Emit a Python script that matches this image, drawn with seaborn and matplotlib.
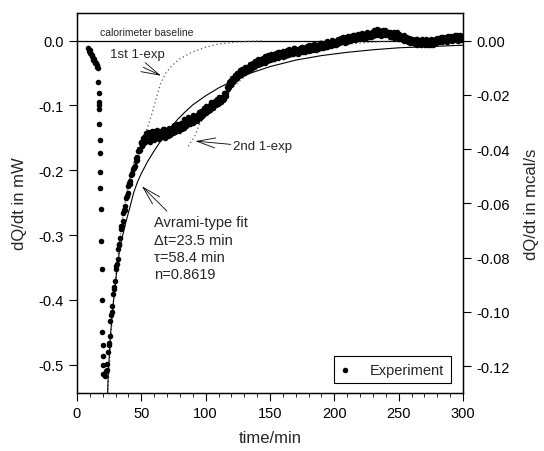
import numpy as np
import pandas as pd
import matplotlib
matplotlib.use("Agg")
import matplotlib.pyplot as plt
import seaborn as sns
from matplotlib.patches import ArrowStyle
from matplotlib.ticker import MultipleLocator

# ---------------- data ----------------
# early points before the jump
early_t = [8.8, 9.3, 9.8, 10.3, 10.8, 11.3, 11.8, 12.3, 12.8, 13.3, 13.8, 14.3, 14.8, 15.3, 15.8, 16.1]
early_v = [-0.012, -0.016, -0.014, -0.019, -0.021, -0.024, -0.022, -0.027, -0.030, -0.028,
           -0.033, -0.035, -0.034, -0.038, -0.040, -0.042]
# sparse descending column
drop_t = [16.6, 16.8, 17.0, 17.1, 17.2, 17.4, 17.6, 17.8, 18.0, 18.2, 18.5, 18.8, 19.1, 19.4,
          19.7, 19.9, 20.1, 20.3, 20.5]
drop_v = [-0.064, -0.081, -0.095, -0.100, -0.106, -0.128, -0.154, -0.174, -0.203, -0.228,
          -0.260, -0.309, -0.353, -0.400, -0.450, -0.470, -0.487, -0.500, -0.515]
# main recovery branch, readings on the whole minute (t = 22 ... 300)
main_t = list(range(22, 301))
main_v = [
    -0.518, -0.508, -0.481, -0.466, -0.432, -0.419, -0.391, -0.380, -0.352, -0.345,
    -0.322, -0.313, -0.291, -0.286, -0.266, -0.261, -0.243, -0.240, -0.224, -0.221,
    -0.208, -0.206, -0.195, -0.193, -0.181, -0.180, -0.167, -0.168, -0.157, -0.159,
    -0.148, -0.156, -0.143, -0.154, -0.145, -0.152, -0.142, -0.151, -0.146, -0.140,
    -0.150, -0.141, -0.147, -0.139, -0.149, -0.143, -0.137, -0.146, -0.140, -0.144,
    -0.136, -0.143, -0.138, -0.133, -0.141, -0.135, -0.130, -0.139, -0.131, -0.134,
    -0.127, -0.134, -0.125, -0.131, -0.122, -0.129, -0.124, -0.119, -0.127, -0.118,
    -0.123, -0.115, -0.120, -0.112, -0.118, -0.109, -0.114, -0.106, -0.111, -0.104,
    -0.108, -0.100, -0.104, -0.097, -0.101, -0.093, -0.099, -0.091, -0.096, -0.089,
    -0.095, -0.087, -0.090, -0.080, -0.081, -0.070, -0.072, -0.062, -0.066, -0.057,
    -0.061, -0.053, -0.057, -0.050, -0.055, -0.047, -0.052, -0.044, -0.049, -0.042,
    -0.047, -0.040, -0.044, -0.037, -0.042, -0.035, -0.039, -0.032, -0.037, -0.030,
    -0.036, -0.028, -0.033, -0.026, -0.034, -0.025, -0.031, -0.023, -0.030, -0.024,
    -0.029, -0.021, -0.027, -0.019, -0.026, -0.018, -0.024, -0.020, -0.025, -0.017,
    -0.023, -0.015, -0.022, -0.014, -0.021, -0.016, -0.020, -0.012, -0.019, -0.014,
    -0.019, -0.011, -0.017, -0.010, -0.018, -0.012, -0.015, -0.008, -0.016, -0.010,
    -0.014, -0.007, -0.013, -0.006, -0.015, -0.008, -0.011, -0.004, -0.012, -0.005,
    -0.010, -0.003, -0.009, -0.002, -0.008, -0.004, -0.007, 0.000, -0.006, -0.001,
    -0.005, 0.002, -0.004, 0.004, -0.002, 0.003, -0.003, 0.006, -0.001, 0.005,
    0.000, 0.007, 0.002, 0.008, 0.001, 0.009, 0.003, 0.006, 0.010, 0.004,
    0.008, 0.003, 0.011, 0.005, 0.012, 0.006, 0.010, 0.014, 0.007, 0.012,
    0.015, 0.008, 0.013, 0.016, 0.009, 0.014, 0.011, 0.017, 0.010, 0.013,
    0.008, 0.014, 0.006, 0.012, 0.004, 0.011, 0.007, 0.013, 0.003, 0.009,
    0.006, 0.001, 0.008, 0.002, 0.005, -0.002, 0.004, -0.001, 0.003, -0.003,
    0.001, -0.005, 0.002, -0.004, -0.001, -0.006, 0.003, -0.003, 0.000, -0.005,
    -0.002, -0.007, 0.001, -0.004, -0.001, -0.006, 0.002, -0.003, 0.004, -0.002,
    0.001, 0.005, -0.002, 0.004, 0.000, 0.006, -0.001, 0.005, 0.002, 0.007,
    0.001, 0.006, 0.002, 0.008, 0.000, 0.005, 0.003, 0.007, 0.002,
]
# readings on the half minute (t = 22.5 ... 299.5)
half_t = [m + 0.5 for m in range(22, 300)]
half_v = [
    -0.509, -0.499, -0.470, -0.455, -0.424, -0.409, -0.383, -0.371, -0.347, -0.337,
    -0.315, -0.305, -0.286, -0.279, -0.261, -0.255, -0.239, -0.235, -0.220, -0.217,
    -0.204, -0.198, -0.197, -0.185, -0.184, -0.171, -0.171, -0.158, -0.162, -0.150,
    -0.157, -0.144, -0.153, -0.141, -0.156, -0.146, -0.139, -0.153, -0.143, -0.150,
    -0.138, -0.151, -0.143, -0.148, -0.136, -0.145, -0.150, -0.138, -0.147, -0.135,
    -0.145, -0.134, -0.142, -0.130, -0.139, -0.128, -0.137, -0.133, -0.127, -0.137,
    -0.133, -0.121, -0.130, -0.126, -0.117, -0.128, -0.120, -0.126, -0.115, -0.124,
    -0.117, -0.124, -0.110, -0.119, -0.108, -0.116, -0.104, -0.112, -0.101, -0.109,
    -0.102, -0.107, -0.095, -0.104, -0.094, -0.100, -0.090, -0.097, -0.087, -0.093,
    -0.089, -0.092, -0.081, -0.085, -0.071, -0.075, -0.063, -0.068, -0.058, -0.063,
    -0.054, -0.059, -0.050, -0.055, -0.046, -0.053, -0.043, -0.050, -0.041, -0.047,
    -0.041, -0.046, -0.036, -0.043, -0.034, -0.041, -0.031, -0.038, -0.029, -0.036,
    -0.030, -0.035, -0.027, -0.032, -0.024, -0.031, -0.022, -0.029, -0.021, -0.028,
    -0.023, -0.028, -0.020, -0.025, -0.017, -0.024, -0.019, -0.023, -0.016, -0.022,
    -0.017, -0.022, -0.013, -0.020, -0.015, -0.019, -0.011, -0.018, -0.013, -0.020,
    -0.013, -0.018, -0.009, -0.016, -0.011, -0.017, -0.010, -0.014, -0.007, -0.015,
    -0.009, -0.014, -0.005, -0.012, -0.007, -0.013, -0.003, -0.010, -0.004, -0.011,
    -0.005, -0.009, -0.001, -0.007, -0.003, -0.008, 0.001, -0.005, 0.000, -0.006,
    0.000, -0.004, 0.003, -0.002, 0.005, -0.001, 0.004, -0.002, 0.007, 0.001,
    0.005, 0.001, 0.009, 0.003, 0.007, 0.002, 0.010, 0.005, 0.008, 0.012,
    0.005, 0.010, 0.004, 0.013, 0.008, 0.011, 0.006, 0.012, 0.016, 0.009,
    0.012, 0.018, 0.010, 0.015, 0.007, 0.016, 0.012, 0.009, 0.015, 0.011,
    0.012, 0.005, 0.010, 0.008, 0.013, 0.005, 0.010, 0.004, 0.011, 0.006,
    0.003, 0.007, 0.000, 0.006, 0.001, 0.004, -0.003, 0.002, -0.002, 0.001,
    -0.003, 0.002, -0.006, 0.000, -0.004, 0.001, -0.005, -0.001, -0.007, 0.002,
    -0.005, 0.000, -0.006, 0.002, -0.003, 0.000, -0.004, 0.003, -0.001, 0.002,
    0.003, -0.001, 0.006, 0.001, 0.004, -0.002, 0.007, 0.002, 0.004, 0.000,
    0.004, 0.008, 0.001, 0.006, 0.003, 0.009, 0.001, 0.005,
]

# Avrami-type fit (solid line)
avrami_t = [23.8, 24.2, 25, 26, 27.5, 29, 31, 33, 35, 38, 41, 44, 47, 50, 55, 60, 66, 72, 78,
            84, 90, 100, 110, 120, 135, 150, 170, 190, 210, 230, 250, 275, 300]
avrami_v = [-0.545, -0.52, -0.49, -0.455, -0.42, -0.39, -0.355, -0.325, -0.305, -0.28, -0.258,
            -0.235, -0.218, -0.205, -0.186, -0.17, -0.152, -0.136, -0.122, -0.110, -0.099,
            -0.085, -0.073, -0.063, -0.050, -0.040, -0.030, -0.023, -0.018, -0.014, -0.011,
            -0.009, -0.007]
# 1st single-exponential (dotted)
exp1_t = [24, 26, 28, 30, 33, 36, 40, 44, 48, 52, 55.5, 59, 62, 65, 69, 74, 80, 89, 100, 110,
          125, 145]
exp1_v = [-0.545, -0.47, -0.41, -0.365, -0.31, -0.265, -0.22, -0.188, -0.163, -0.148, -0.130,
          -0.108, -0.086, -0.066, -0.050, -0.038, -0.028, -0.018, -0.010, -0.005, -0.002, 0.0]
# 2nd single-exponential (dotted)
exp2_t = [86.5, 91.7, 95, 100, 105, 110, 120, 130, 140, 155, 170, 190, 210, 240, 270, 300]
exp2_v = [-0.163, -0.147, -0.130, -0.113, -0.102, -0.093, -0.074, -0.056, -0.043, -0.029,
          -0.019, -0.011, -0.005, -0.001, 0.001, 0.002]

MW_TO_MCAL = 0.239
y_ticks_mw = [0.0, -0.1, -0.2, -0.3, -0.4, -0.5]
y_ticks_mcal = [0.00, -0.02, -0.04, -0.06, -0.08, -0.10, -0.12]
x_ticks = [0, 50, 100, 150, 200, 250, 300]

# ---------------- style ----------------
sns.set_theme(style="ticks")
plt.rcParams["font.family"] = ["Liberation Sans", "DejaVu Sans"]
plt.rcParams["axes.unicode_minus"] = False
plt.rcParams["axes.linewidth"] = 0.9

fig = plt.figure(figsize=(5.44, 4.52), dpi=100)
ax = fig.add_axes([0.1415, 0.1283, 0.7096, 0.8407])

exp_df = pd.DataFrame({
    "t": early_t + drop_t + main_t + half_t,
    "v": early_v + drop_v + main_v + half_v,
})
avr_df = pd.DataFrame({"t": avrami_t, "v": avrami_v})
e1_df = pd.DataFrame({"t": exp1_t, "v": exp1_v})
e2_df = pd.DataFrame({"t": exp2_t, "v": exp2_v})

# baseline
ax.axhline(0.0, color="black", lw=0.9, zorder=1)
sns.lineplot(data=e1_df, x="t", y="v", ax=ax, color="0.35", lw=0.9,
             linestyle=(0, (1, 2.2)), sort=False, estimator=None, legend=False, zorder=2)
sns.lineplot(data=e2_df, x="t", y="v", ax=ax, color="0.35", lw=0.9,
             linestyle=(0, (1, 2.2)), sort=False, estimator=None, legend=False, zorder=2)
sns.lineplot(data=avr_df, x="t", y="v", ax=ax, color="black", lw=0.8,
             sort=False, estimator=None, legend=False, zorder=3)
sns.scatterplot(data=exp_df, x="t", y="v", ax=ax, color="black", s=16, linewidth=0,
                label="Experiment", zorder=4)

ax.set_xlim(0, 300)
ax.set_ylim(-0.5437, 0.0427)
ax.set_xticks(x_ticks)
ax.set_xticklabels([str(v) for v in x_ticks])
ax.xaxis.set_minor_locator(MultipleLocator(10))
ax.set_yticks(y_ticks_mw)
ax.set_yticklabels([f"{v:.1f}" for v in y_ticks_mw])
ax.tick_params(axis="both", which="major", direction="out", length=6, width=0.8,
               labelsize=10.5, color="black", labelcolor="black")
ax.tick_params(axis="x", which="minor", direction="out", length=3, width=0.7)
ax.set_xlabel("time/min", fontsize=12, labelpad=7)
ax.set_ylabel("dQ/dt in mW", fontsize=12, labelpad=8)
for s in ax.spines.values():
    s.set_visible(True)
    s.set_color("black")
    s.set_linewidth(0.9)

ax2 = ax.twinx()
ax2.set_ylim(ax.get_ylim()[0] * MW_TO_MCAL, ax.get_ylim()[1] * MW_TO_MCAL)
ax2.set_yticks(y_ticks_mcal)
ax2.set_yticklabels([f"{v:.2f}" for v in y_ticks_mcal])
ax2.tick_params(axis="y", direction="out", length=6, width=0.8, labelsize=10.5,
                color="black", labelcolor="black")
ax2.set_ylabel("dQ/dt in mcal/s", fontsize=12, labelpad=10)
for s in ax2.spines.values():
    s.set_color("black")
    s.set_linewidth(0.9)

# annotations
arrow = dict(arrowstyle=ArrowStyle("->", head_length=1.1, head_width=0.3),
             color="black", lw=0.6, shrinkA=0, shrinkB=0)
ax.text(17.9, 0.0134, "calorimeter baseline", fontsize=7.5, va="center", ha="left")
ax.text(25.9, -0.0205, "1st 1-exp", fontsize=9.5, va="center", ha="left")
ax.annotate("", xy=(65.3, -0.054), xytext=(51.5, -0.041), arrowprops=arrow)
ax.text(121.2, -0.162, "2nd 1-exp", fontsize=9.5, va="center", ha="left")
ax.annotate("", xy=(92.0, -0.155), xytext=(119.5, -0.160), arrowprops=arrow)
ax.annotate("", xy=(50.5, -0.2247), xytext=(69.9, -0.263), arrowprops=arrow)
fit_lines = ["Avrami-type fit", "\u0394t=23.5 min", "\u03c4=58.4 min", "n=0.8619"]
fit_y = [-0.2798, -0.3076, -0.3338, -0.360]
for txt, yy in zip(fit_lines, fit_y):
    ax.text(59.8, yy, txt, fontsize=10.5, va="center", ha="left")

leg = ax.legend(loc="lower right", bbox_to_anchor=(0.969, 0.026), borderaxespad=0,
                fontsize=10.5, frameon=True, fancybox=False, edgecolor="black",
                handlelength=0.6, handletextpad=1.4, borderpad=0.45, markerscale=1.0)
leg.get_frame().set_linewidth(0.8)
leg.get_frame().set_alpha(1)

fig.savefig("out.png", dpi=100)
